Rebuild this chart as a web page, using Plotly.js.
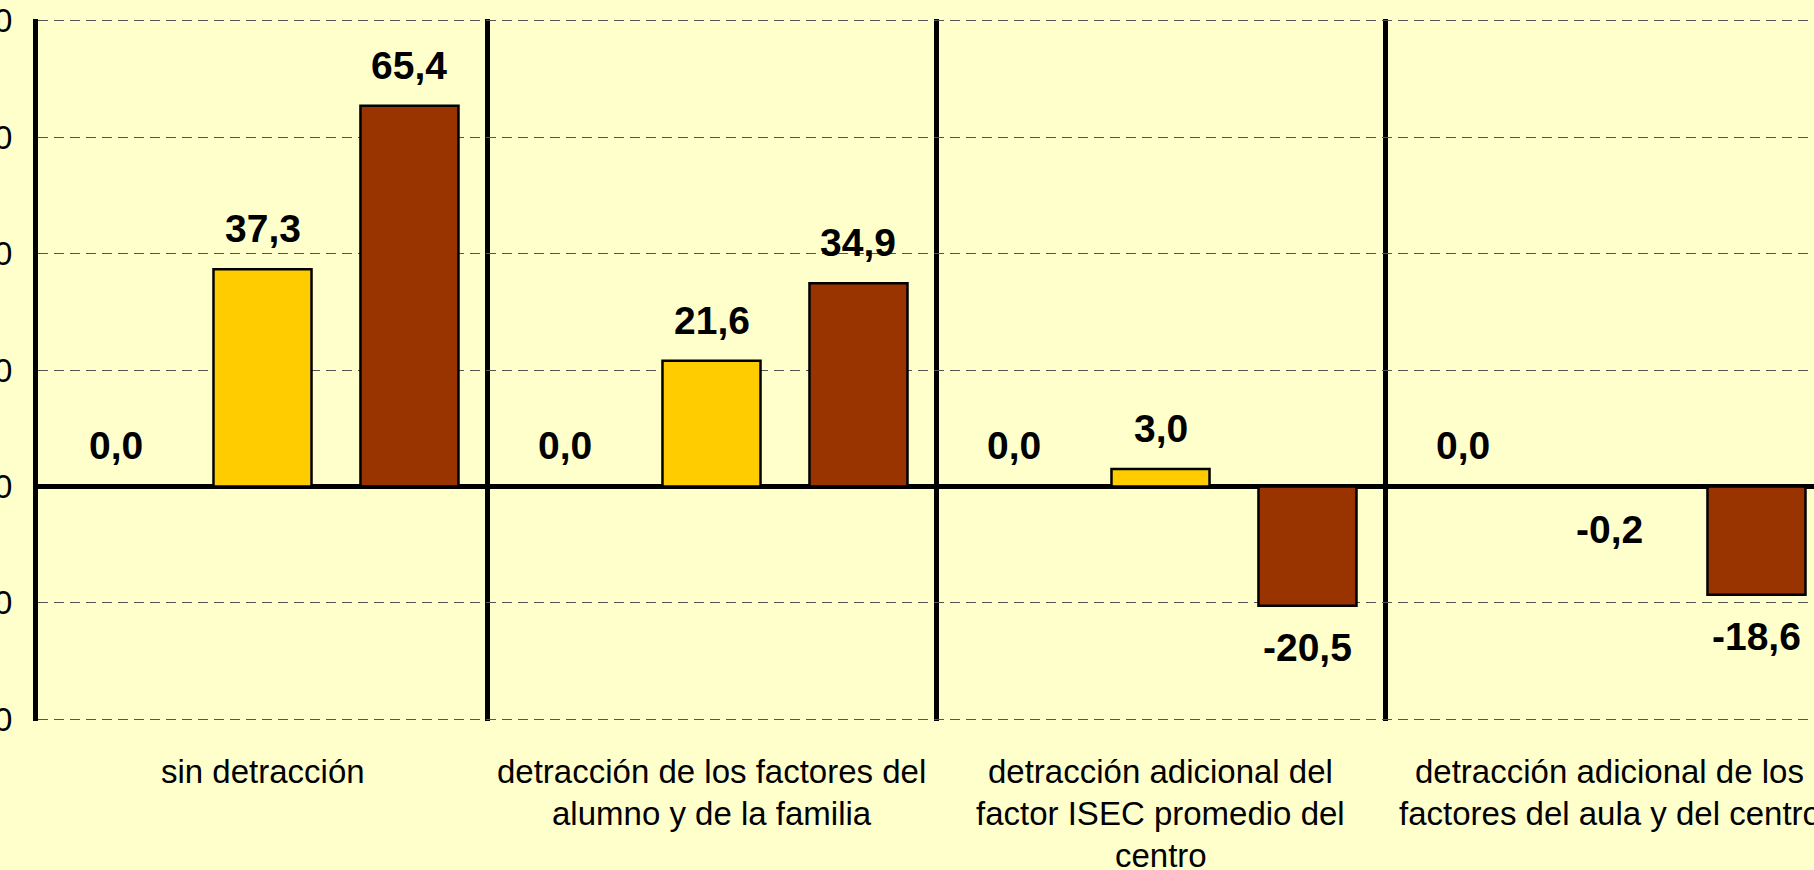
<!DOCTYPE html>
<html><head><meta charset="utf-8">
<script src="https://cdn.plot.ly/plotly-3.0.1.min.js"></script>
<style>html,body{margin:0;padding:0;background:#FFFFCC;overflow:hidden}#chart{width:1814px;height:870px}</style>
</head><body><div id="chart"></div>
<script>
// ---- data ----
const categories = [
  "sin detracción",
  "detracción de los factores del<br>alumno y de la familia",
  "detracción adicional del<br>factor ISEC promedio del<br>centro",
  "detracción adicional de los<br>factores del aula y del centro"
];
const seriesNames = ["Serie 1", "Serie 2", "Serie 3"];
const serie1 = [0.0, 0.0, 0.0, 0.0];
const serie2 = [37.3, 21.6, 3.0, -0.2];
const serie3 = [65.4, 34.9, -20.5, -18.6];
const yTickVals = [-40, -20, 0, 20, 40, 60, 80];
const yTickText = ["-40", "-20", "0", "20", "40", "60", "80"];

// ---- style ----
const seriesColors = ["#3366CC", "#FFCC00", "#993300"];
const W = 1814, H = 870;
const mL = 38, mR = 0, mT = 19, mB = 149;
const unitPx = 449;             // pixel width of one category
const plotW = W - mL - mR;
const xRange = [-0.5, -0.5 + plotW / unitPx];
const bargap = 0.018, bargroupgap = 0.333;
const slotPx = (1 - bargap) * unitPx / 3;
const fontFam = "Arial, 'Liberation Sans', sans-serif";

const allSeries = [serie1, serie2, serie3];
const xIdx = categories.map((c, i) => i);

const traces = allSeries.map((vals, s) => ({
  type: "bar",
  name: seriesNames[s],
  x: xIdx,
  y: vals,
  marker: {color: seriesColors[s], line: {color: "#000000", width: 2.5}},
  hoverinfo: "x+y"
}));

const fmt = v => v.toFixed(1).replace(".", ",");
const annotations = [];
allSeries.forEach((vals, s) => {
  vals.forEach((v, i) => {
    const pos = v >= 0;
    annotations.push({
      x: i, y: v, xref: "x", yref: "y",
      xshift: (s - 1) * slotPx,
      yshift: pos ? 17 : -18,
      yanchor: pos ? "bottom" : "top",
      xanchor: "center",
      text: fmt(v), showarrow: false,
      font: {family: fontFam, size: 39, color: "#000000", weight: 700}
    });
  });
});
categories.forEach((c, i) => {
  c.split("<br>").forEach((line, k) => {
    annotations.push({
      x: i, y: 0, xref: "x", yref: "paper",
      yanchor: "middle", xanchor: "center",
      yshift: -50 - 42 * k,
      text: line, showarrow: false,
      font: {family: fontFam, size: 33, color: "#000000"}
    });
  });
});

const layout = {
  width: W, height: H,
  margin: {l: mL, r: mR, t: mT, b: mB, pad: 0},
  paper_bgcolor: "#FFFFCC",
  plot_bgcolor: "#FFFFCC",
  showlegend: false,
  barmode: "group",
  bargap: bargap,
  bargroupgap: bargroupgap,
  font: {family: fontFam, color: "#000000"},
  xaxis: {
    type: "linear",
    range: xRange,
    showticklabels: false,
    ticks: "",
    tickvals: [-0.5, 0.5, 1.5, 2.5, 3.5],
    showgrid: true, gridcolor: "#000000", gridwidth: 5,
    zeroline: false, showline: false
  },
  yaxis: {
    range: [-40.3, 80.3],
    tickvals: yTickVals, ticktext: yTickText,
    tickfont: {family: fontFam, size: 33, color: "#000000"},
    ticks: "", ticklabelstandoff: 14,
    showgrid: true, gridcolor: "#555555", gridwidth: 1, griddash: "10px,6px",
    zeroline: true, zerolinecolor: "#000000", zerolinewidth: 5,
    showline: true, linecolor: "#000000", linewidth: 5
  },
  annotations: annotations
};

Plotly.newPlot("chart", traces, layout, {displayModeBar: false, staticPlot: true});
</script>
</body></html>
